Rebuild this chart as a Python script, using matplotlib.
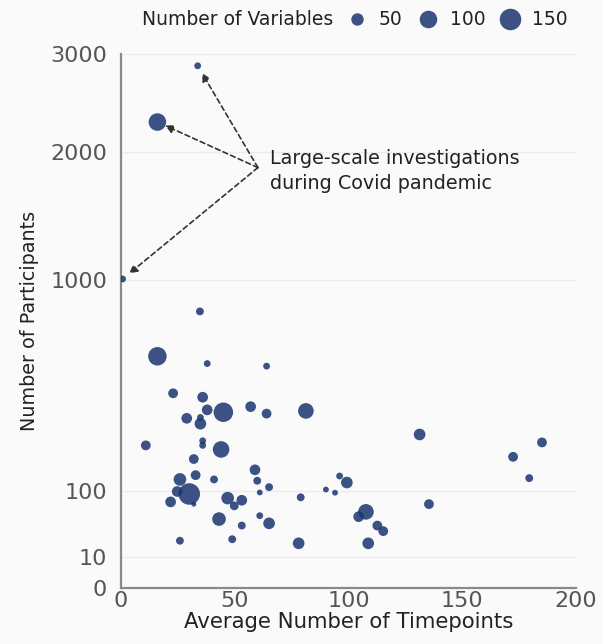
import numpy as np
import matplotlib
matplotlib.use("Agg")
import matplotlib.pyplot as plt
from matplotlib.lines import Line2D

# values
timepoints = [33.7, 16.0, 0.7, 34.7, 16.0, 37.9, 64.0,
              22.9, 35.9, 37.9, 45.0, 57.0, 64.0, 28.9, 34.9, 34.9, 10.9,
              35.9, 35.9, 44.0, 32.0, 58.9, 32.8, 25.9, 40.9, 59.9, 65.1,
              61.0, 24.7, 30.0, 21.8, 32.0, 46.9, 53.1, 49.8, 43.1, 61.0,
              65.1, 53.1, 25.9, 48.9,
              81.3, 79.0, 78.1, 90.1, 94.1, 96.1, 99.3, 107.7, 104.5, 112.7,
              115.3, 108.7, 131.3, 172.4, 185.1, 179.5, 135.4]
participants = [2870, 2285, 1005, 805, 565, 530, 518,
                399, 383, 334, 325, 346, 320, 303, 306, 284, 214,
                228, 214, 202, 175, 147, 134, 124, 124, 121, 107,
                96, 98, 93, 78, 74, 85, 81, 71, 50, 55,
                44, 41, 23.5, 25,
                330, 86.5, 21, 102, 95.5, 132, 117, 61, 53.5, 41,
                34, 21, 248, 181, 223, 127, 74]
variables = [15, 100, 15, 20, 111, 15, 15,
             31, 37, 37, 123, 37, 31, 37, 15, 44, 31,
             15, 15, 89, 31, 37, 31, 52, 20, 20, 20,
             11, 37, 150, 37, 8, 52, 37, 25, 60, 15,
             44, 20, 20, 20,
             79, 20, 44, 11, 11, 15, 44, 79, 37, 31,
             31, 44, 44, 31, 31, 20, 31]

legend_sizes = [50, 100, 150]
y_ticks = [0, 10, 100, 1000, 2000, 3000]
x_ticks = [0, 50, 100, 150, 200]
covid_idx = [0, 1, 2]

DOT = "#1a3570"
SCALE = 1.6

fig = plt.figure(figsize=(6.03, 6.44), dpi=100, facecolor="#fafafa")
ax = fig.add_axes([0.2007, 0.087, 0.7543, 0.829])
ax.set_facecolor("#fafafa")

# square-root y axis
ax.set_yscale("function",
              functions=(lambda y: np.sqrt(np.clip(y, 0, None)),
                         lambda y: np.square(y)))

ax.scatter(timepoints, participants, s=np.array(variables) * SCALE,
           color=DOT, alpha=0.85, linewidths=0, zorder=3)

ax.set_xlim(0, 200)
ax.set_ylim(0, 3000)
ax.set_xticks(x_ticks)
ax.set_yticks(y_ticks)
ax.grid(axis="y", color="#ececec", lw=1)
ax.set_axisbelow(True)
ax.tick_params(length=0, labelsize=16, labelcolor="#555555")
ax.tick_params(axis="y", pad=10)
ax.tick_params(axis="x", pad=2)
for side in ["top", "right"]:
    ax.spines[side].set_visible(False)
for side in ["left", "bottom"]:
    ax.spines[side].set_color("#8a8a8a")
    ax.spines[side].set_linewidth(1.6)

ax.set_xlabel("Average Number of Timepoints", fontsize=15.3, color="#222222",
              labelpad=1)
ax.set_ylabel("Number of Participants", fontsize=13.8, color="#222222",
              labelpad=8)

# annotation for the covid studies
tail = (60.2, 1860)
ax.text(65.5, 1829, "Large-scale investigations\nduring Covid pandemic",
        fontsize=13.8, color="#222222", ha="left", va="center",
        linespacing=1.4)
for i in covid_idx:
    ax.annotate("", xy=(timepoints[i], participants[i]), xytext=tail,
                arrowprops=dict(arrowstyle="-|>", linestyle=(0, (3, 2)),
                                color="#333333", lw=1.2, shrinkA=0,
                                shrinkB=6, mutation_scale=12))

# legend along the top
fig.text(0.553, 0.969, "Number of Variables", fontsize=13.5, color="#222222",
         ha="right", va="center")
handles = [Line2D([], [], ls="", marker="o", color=DOT, alpha=0.85,
                  markeredgewidth=0, markersize=np.sqrt(v * SCALE))
           for v in legend_sizes]
fig.legend(handles, [str(v) for v in legend_sizes], ncol=3,
           loc="center left", bbox_to_anchor=(0.5765, 0.969), frameon=False,
           borderpad=0, borderaxespad=0, fontsize=13.5, handletextpad=0.67,
           columnspacing=0.83, handlelength=1.0, labelcolor="#222222")

fig.savefig("out.png", dpi=100, facecolor=fig.get_facecolor())
